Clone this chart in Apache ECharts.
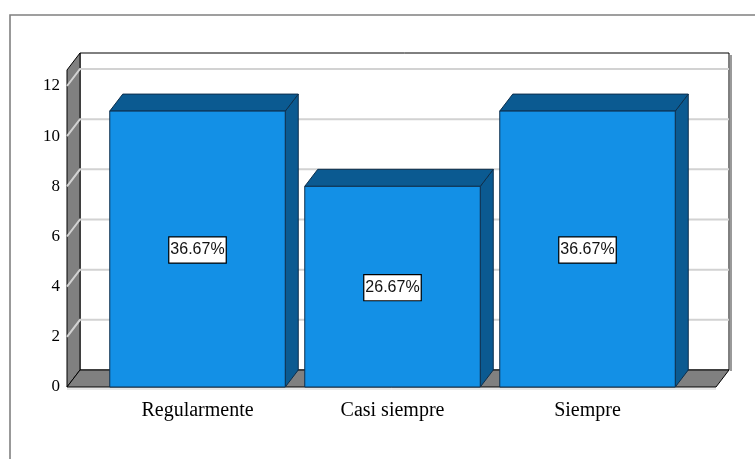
<!DOCTYPE html>
<html>
<head>
<meta charset="utf-8">
<script src="https://cdn.jsdelivr.net/npm/echarts@6/dist/echarts.min.js"></script>
<style>html,body{margin:0;padding:0;background:#fff;}#c{width:755px;height:459px;}</style>
</head>
<body>
<div id="c"></div>
<script>
const categories = ["Regularmente", "Casi siempre", "Siempre"];
const counts = [11, 8, 11];
const yTicks = [0, 2, 4, 6, 8, 10, 12];

const total = counts.reduce((a, b) => a + b, 0);
const pctLabels = counts.map(v => (v / total * 100).toFixed(2) + "%");

const DX = 13, DY = -17;
const FRONT = '#1390E6', DARK = '#0B5A91', EDGE = '#0e2f4c';

const chart = echarts.init(document.getElementById('c'), null, {renderer: 'canvas'});

function renderFrame(params, api) {
  const cs = params.coordSys;
  const x0 = cs.x - 33, x1 = cs.x + cs.width + 31;
  const yb = api.coord([0, 0])[1];
  const top = api.coord([0, yTicks[yTicks.length - 1]])[1] - 16;
  const children = [];
  children.push({type: 'rect', shape: {x: x0 + DX, y: top + DY, width: x1 - x0, height: yb - top},
    style: {fill: '#fff', stroke: '#000', lineWidth: 1}});
  children.push({type: 'polyline', shape: {points: [[x1 + DX + 2, top + DY + 2], [x1 + DX + 2, yb + DY + 1]]},
    style: {stroke: '#9a9a9a', lineWidth: 2, fill: null}});
  children.push({type: 'polygon', shape: {points: [[x0, yb], [x0, top], [x0 + DX, top + DY], [x0 + DX, yb + DY]]},
    style: {fill: '#808080', stroke: '#000', lineWidth: 1}});
  yTicks.forEach(v => {
    if (v === 0) return;
    const y = api.coord([0, v])[1];
    children.push({type: 'polyline', shape: {points: [[x0, y], [x0 + DX, y + DY], [x1 + DX, y + DY]]},
      style: {stroke: '#d2d2d2', lineWidth: 2, fill: null}});
  });
  children.push({type: 'polygon', shape: {points: [[x0, yb], [x1, yb], [x1 + DX, yb + DY], [x0 + DX, yb + DY]]},
    style: {fill: '#808080', stroke: '#000', lineWidth: 1}});
  children.push({type: 'line', shape: {x1: x0, y1: yb + 2, x2: x1, y2: yb + 2},
    style: {stroke: '#cfcfcf', lineWidth: 1}});
  return {type: 'group', children: children};
}

function renderBar(params, api) {
  const idx = api.value(0), v = api.value(1);
  const c = api.coord([idx, v]);
  const yb = api.coord([idx, 0])[1];
  const w = api.size([1, 0])[0] * 0.9;
  const xL = c[0] - w / 2, xR = c[0] + w / 2, yt = c[1];
  return {type: 'group', children: [
    {type: 'polygon', shape: {points: [[xR, yt], [xR + DX, yt + DY], [xR + DX, yb + DY], [xR, yb]]},
      style: {fill: DARK, stroke: EDGE, lineWidth: 1}},
    {type: 'polygon', shape: {points: [[xL, yt], [xR, yt], [xR + DX, yt + DY], [xL + DX, yt + DY]]},
      style: {fill: DARK, stroke: EDGE, lineWidth: 1}},
    {type: 'rect', shape: {x: xL, y: yt, width: w, height: yb - yt},
      style: {fill: FRONT, stroke: EDGE, lineWidth: 1}},
    {type: 'text', x: c[0], y: (yt + yb) / 2 + 1,
      style: {text: pctLabels[idx], fill: '#111', font: '16px "Liberation Sans", Arial, sans-serif',
        align: 'center', verticalAlign: 'middle', backgroundColor: '#fff', borderColor: '#000',
        borderWidth: 1.2, padding: [5, 1, 4, 1]}}
  ]};
}

chart.setOption({
  animation: false,
  backgroundColor: '#fff',
  graphic: [{type: 'rect', shape: {x: 10, y: 15, width: 800, height: 500},
    style: {fill: null, stroke: '#808080', lineWidth: 1.6}, z: -10}],
  grid: {left: 100, right: 70, top: 86, bottom: 72},
  xAxis: {type: 'category', data: categories,
    axisLine: {show: false}, axisTick: {show: false},
    axisLabel: {margin: 14, color: '#000', fontSize: 20, fontFamily: '"Liberation Serif", "Times New Roman", serif'}},
  yAxis: {type: 'value', min: 0, max: 12, interval: 2,
    axisLine: {show: false}, axisTick: {show: false}, splitLine: {show: false},
    axisLabel: {margin: 40, color: '#000', fontSize: 17, fontFamily: '"Liberation Serif", "Times New Roman", serif'}},
  series: [
    {type: 'custom', renderItem: renderFrame, data: [[0, 0]], clip: false, silent: true, z: 1},
    {type: 'custom', renderItem: renderBar, data: counts.map((v, i) => [i, v]), clip: false, z: 2}
  ]
});
</script>
</body>
</html>
